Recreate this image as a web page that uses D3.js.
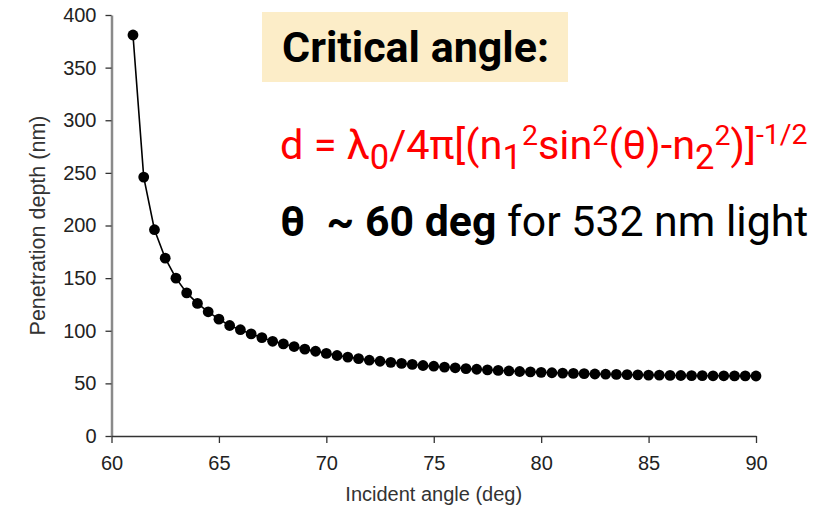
<!DOCTYPE html>
<html>
<head>
<meta charset="utf-8">
<script src="https://cdn.jsdelivr.net/npm/d3@7/dist/d3.min.js"></script>
<style>
  html, body { margin: 0; padding: 0; background: #fff; }
  svg { display: block; }
</style>
</head>
<body>
<svg id="chart" width="835" height="512"></svg>
<script>
// ---- data ----
const angles = [61, 61.5, 62, 62.5, 63, 63.5, 64, 64.5, 65, 65.5, 66, 66.5, 67, 67.5, 68, 68.5,
  69, 69.5, 70, 70.5, 71, 71.5, 72, 72.5, 73, 73.5, 74, 74.5, 75, 75.5, 76, 76.5, 77, 77.5,
  78, 78.5, 79, 79.5, 80, 80.5, 81, 81.5, 82, 82.5, 83, 83.5, 84, 84.5, 85, 85.5, 86, 86.5,
  87, 87.5, 88, 88.5, 89, 89.5, 90];
const depths = [381, 246, 196, 169, 150, 136, 126, 118, 111, 105, 101, 97, 93.5, 90, 87.5, 85,
  82.5, 80.5, 78.5, 76.5, 75, 73.5, 72, 71, 70, 69, 68, 67, 66.3, 65.5, 64.8, 64, 63.4, 62.8,
  62.3, 61.8, 61.3, 60.9, 60.5, 60.1, 59.8, 59.5, 59.2, 58.9, 58.7, 58.5, 58.3, 58.1, 57.9, 57.8,
  57.6, 57.5, 57.4, 57.3, 57.2, 57.2, 57.1, 57.1, 57.0];
const xTicks = [60, 65, 70, 75, 80, 85, 90];
const yTicks = [0, 50, 100, 150, 200, 250, 300, 350, 400];
const xTitle = "Incident angle (deg)";
const yTitle = "Penetration depth (nm)";
const boxTitle = "Critical angle:";

const points = angles.map((a, i) => ({ a, d: depths[i] }));

const svg = d3.select("#chart");
const x = d3.scaleLinear().domain([60, 90]).range([111.5, 756]);
const y = d3.scaleLinear().domain([0, 400]).range([436, 15]);

// y axis
const gy = svg.append("g").attr("transform", `translate(${x(60)},0)`)
  .call(d3.axisLeft(y).tickValues(yTicks).tickSize(6).tickSizeOuter(0).tickPadding(9));
gy.select(".domain").attr("stroke", "#8a8a8a").attr("stroke-width", 2.5);
gy.selectAll(".tick line").attr("stroke", "#333").attr("stroke-width", 1.3);
gy.selectAll(".tick text").attr("font-family", "Liberation Sans, Arial, sans-serif")
  .attr("font-size", 20).attr("fill", "#222");

// x axis
const gx = svg.append("g").attr("transform", `translate(0,${y(0)})`)
  .call(d3.axisBottom(x).tickValues(xTicks).tickSize(7).tickSizeOuter(0).tickPadding(13));
gx.select(".domain").attr("stroke", "#333").attr("stroke-width", 1.5);
gx.selectAll(".tick line").attr("stroke", "#333").attr("stroke-width", 1.3);
gx.selectAll(".tick text").attr("font-family", "Liberation Sans, Arial, sans-serif")
  .attr("font-size", 20).attr("fill", "#222");

// axis titles
svg.append("text")
  .attr("x", x(75)).attr("y", 501)
  .attr("text-anchor", "middle")
  .attr("font-family", "Liberation Sans, Arial, sans-serif")
  .attr("font-size", 20).attr("fill", "#333")
  .text(xTitle);
svg.append("text")
  .attr("transform", `translate(45,${(y(0) + y(400)) / 2}) rotate(-90)`)
  .attr("text-anchor", "middle")
  .attr("font-family", "Liberation Sans, Arial, sans-serif")
  .attr("font-size", 21.5).attr("fill", "#333")
  .text(yTitle);

// line + markers
svg.append("path")
  .datum(points)
  .attr("fill", "none").attr("stroke", "#000").attr("stroke-width", 1.6)
  .attr("d", d3.line().x(p => x(p.a)).y(p => y(p.d)));
svg.append("g").selectAll("circle").data(points).join("circle")
  .attr("cx", p => x(p.a)).attr("cy", p => y(p.d)).attr("r", 5.4).attr("fill", "#000");

// annotation box
svg.append("rect").attr("x", 262).attr("y", 12).attr("width", 306).attr("height", 70)
  .attr("fill", "#fcedc8");
svg.append("text").attr("x", 282).attr("y", 62)
  .attr("font-family", "Roboto, sans-serif").attr("font-weight", 700)
  .attr("font-size", 43).attr("fill", "#000")
  .text(boxTitle);

// formula
const f = svg.append("text").attr("x", 280).attr("y", 159)
  .attr("font-family", "Roboto, sans-serif").attr("font-size", 41.5).attr("fill", "#ff0000");
f.append("tspan").text("d = λ");
f.append("tspan").attr("dy", 10).attr("font-size", 34.5).text("0");
f.append("tspan").attr("dy", -10).text("/4π[(n");
f.append("tspan").attr("dy", 10).attr("font-size", 34.5).text("1");
f.append("tspan").attr("dy", -24).attr("font-size", 28.5).text("2");
f.append("tspan").attr("dy", 14).text("sin");
f.append("tspan").attr("dy", -14).attr("font-size", 28.5).text("2");
f.append("tspan").attr("dy", 14).text("(θ)-n");
f.append("tspan").attr("dy", 10).attr("font-size", 34.5).text("2");
f.append("tspan").attr("dy", -24).attr("font-size", 28.5).text("2");
f.append("tspan").attr("dy", 14).text(")]");
f.append("tspan").attr("dy", -15).attr("font-size", 28.5).text("-1/2");

// angle line
const t = svg.append("text").attr("x", 280).attr("y", 236)
  .attr("font-family", "Roboto, sans-serif").attr("font-size", 42.8).attr("fill", "#000");
t.append("tspan").attr("font-weight", 700).text("θ\u00a0 ~ 60 deg");
t.append("tspan").attr("font-weight", 400).text(" for 532 nm light");
</script>
</body>
</html>
